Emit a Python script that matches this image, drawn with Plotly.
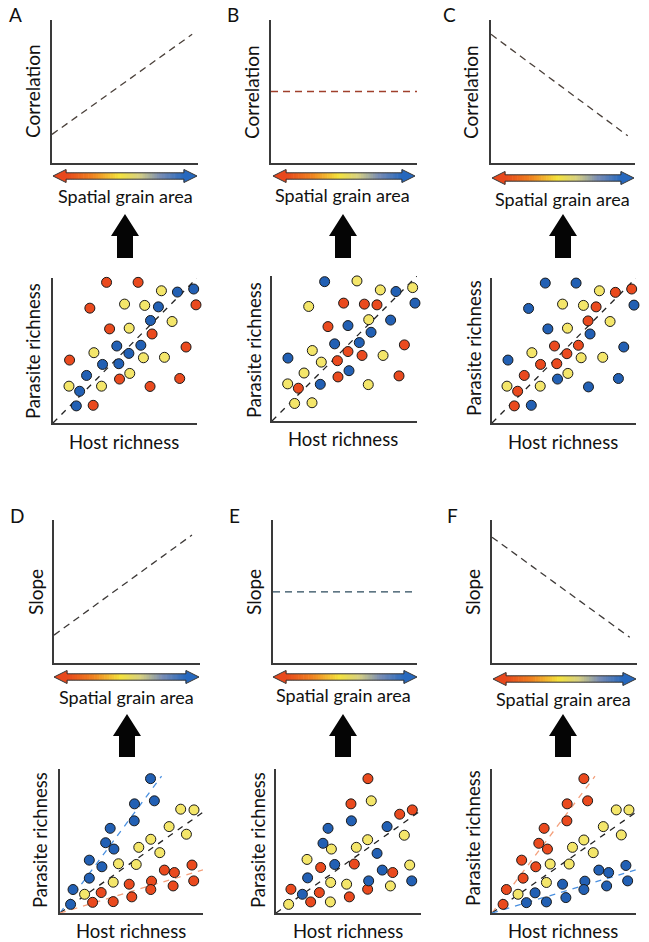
import plotly.graph_objects as go

W, H = 649, 942

# ---------------- data ----------------
# Top summary panels (metric vs spatial grain area), 0-10 scale
corr_inc_x = [0, 9.6];  corr_inc_y = [2.0, 9.0]
corr_flat_x = [0, 10];  corr_flat_y = [5.0, 5.0]
corr_dec_x = [0, 9.5];  corr_dec_y = [9.0, 1.9]
slope_inc_x = [0, 9.45]; slope_inc_y = [1.95, 8.95]
slope_flat_x = [0, 10];  slope_flat_y = [4.97, 4.97]
slope_dec_x = [0, 9.5];  slope_dec_y = [8.8, 1.8]

# Scatter panel A
A_red_x = [3.72, 5.91, 2.56, 9.93, 3.93, 6.88, 9.24, 1.15, 4.62, 8.80, 6.74, 2.79]
A_red_y = [9.70, 9.70, 7.92, 8.15, 6.49, 6.14, 5.24, 4.34, 3.03, 3.07, 2.52, 1.22]
A_yel_x = [8.80, 7.53, 4.97, 6.37, 8.27, 5.29, 2.84, 6.28, 7.74, 5.33, 1.11, 3.37]
A_yel_y = [10.18, 9.12, 8.20, 8.11, 7.00, 6.54, 4.85, 4.50, 4.53, 3.42, 2.54, 2.54]
A_blu_x = [8.64, 9.77, 7.32, 6.77, 4.43, 6.10, 5.27, 3.44, 4.57, 2.33, 1.85, 1.62]
A_blu_y = [9.03, 9.24, 8.01, 7.07, 5.31, 5.36, 4.80, 4.04, 4.09, 3.28, 2.19, 1.18]

# Scatter panel B
B_red_x = [8.69, 4.94, 6.37, 7.24, 3.86, 9.13, 5.24, 6.21, 4.51, 4.55, 8.76, 1.82]
B_red_y = [10.11, 8.13, 8.06, 8.01, 6.51, 5.25, 4.79, 4.52, 4.16, 3.04, 3.11, 2.26]
B_yel_x = [5.86, 7.47, 9.70, 2.53, 6.67, 2.78, 3.40, 7.66, 2.21, 1.08, 6.64, 1.56, 2.76]
B_yel_y = [9.66, 9.04, 9.20, 7.90, 6.99, 4.86, 4.06, 4.52, 3.31, 2.56, 2.51, 1.21, 1.26]
B_blu_x = [3.63, 8.55, 9.86, 5.24, 8.18, 6.83, 4.32, 6.02, 1.10, 5.31, 3.33]
B_blu_y = [9.61, 8.93, 8.13, 6.58, 6.96, 6.12, 5.32, 5.41, 4.34, 3.47, 2.53]

# Scatter panel C
C_blu_x = [3.70, 5.84, 2.54, 9.86, 3.88, 6.81, 9.15, 1.11, 4.55, 8.78, 6.70, 2.73]
C_blu_y = [9.65, 9.65, 7.90, 8.13, 6.49, 6.14, 5.24, 4.34, 3.03, 3.07, 2.49, 1.22]
C_yel_x = [8.73, 7.46, 4.90, 6.35, 8.20, 5.24, 2.77, 6.19, 7.69, 5.27, 1.04, 3.35]
C_yel_y = [10.18, 9.12, 8.20, 8.11, 7.00, 6.54, 4.85, 4.50, 4.53, 3.42, 2.54, 2.54]
C_red_x = [8.57, 9.70, 7.23, 6.67, 4.34, 6.00, 5.20, 3.37, 4.50, 2.24, 1.78, 1.55]
C_red_y = [9.01, 9.24, 8.01, 7.04, 5.31, 5.36, 4.78, 4.04, 4.09, 3.28, 2.19, 1.18]

# Scatter panel D
D_blu_x = [6.33, 6.60, 5.21, 5.19, 3.51, 3.19, 3.77, 2.05, 2.93, 2.05, 0.91, 0.74]
D_blu_y = [9.33, 7.79, 7.58, 6.40, 5.88, 4.88, 4.44, 3.67, 3.21, 2.42, 1.63, 0.60]
D_yel_x = [9.37, 8.44, 10.53, 7.63, 8.84, 6.35, 5.51, 6.98, 4.09, 5.33, 3.72, 1.72]
D_yel_y = [7.16, 7.21, 6.79, 6.00, 5.47, 5.12, 4.56, 4.19, 3.42, 3.37, 2.14, 1.30]
D_red_x = [9.23, 7.30, 8.00, 6.40, 4.84, 7.91, 9.35, 6.35, 5.02, 2.88, 3.72, 2.28]
D_red_y = [3.33, 2.98, 2.81, 2.21, 2.00, 1.88, 2.23, 1.63, 1.12, 1.42, 0.79, 0.74]

# Scatter panel E
E_red_x = [6.34, 5.17, 8.53, 9.40, 3.08, 5.40, 8.05, 1.03, 2.99, 2.39, 5.06, 6.32]
E_red_y = [9.33, 7.58, 6.86, 7.16, 3.16, 3.40, 2.81, 1.65, 1.42, 0.77, 1.12, 1.65]
E_yel_x = [6.57, 2.14, 3.82, 5.54, 6.32, 8.85, 9.22, 3.77, 4.87, 7.89, 3.75, 0.87]
E_yel_y = [7.79, 3.72, 4.44, 4.56, 5.09, 5.40, 3.33, 2.12, 2.00, 1.88, 0.77, 0.60]
E_blu_x = [5.20, 3.59, 3.24, 4.05, 6.97, 7.66, 10.41, 7.33, 2.18, 1.82, 6.39, 9.36]
E_blu_y = [6.40, 5.88, 4.84, 3.37, 4.14, 6.00, 6.74, 2.98, 2.44, 1.30, 2.23, 2.23]

# Scatter panel F
F_red_x = [6.38, 6.64, 5.22, 5.20, 3.62, 3.25, 3.85, 2.06, 3.04, 2.16, 1.00, 0.77]
F_red_y = [9.33, 7.79, 7.58, 6.40, 5.88, 4.84, 4.44, 3.67, 3.21, 2.42, 1.63, 0.60]
F_yel_x = [9.51, 8.63, 10.46, 7.73, 8.98, 6.38, 5.59, 7.03, 4.04, 5.36, 3.78, 1.81]
F_yel_y = [7.16, 7.16, 6.74, 6.00, 5.42, 5.07, 4.56, 4.19, 3.40, 3.40, 2.12, 1.30]
F_blu_x = [9.30, 7.42, 8.10, 6.45, 4.90, 7.96, 9.42, 6.38, 5.13, 2.99, 3.78, 2.39]
F_blu_y = [3.30, 2.98, 2.81, 2.21, 2.00, 1.88, 2.23, 1.63, 1.07, 1.40, 0.77, 0.72]

# Fitted trend lines in scatter panels
diag_x = [0, 10]; diag_y = [0, 10]
D_blu_fit_x = [0, 7.1];  D_blu_fit_y = [0, 9.5]
D_all_fit_x = [0, 10.5]; D_all_fit_y = [0, 7.35]
D_red_fit_x = [0, 10.0]; D_red_fit_y = [0, 3.0]
E_all_fit_x = [0, 10.4]; E_all_fit_y = [0, 7.4]
F_red_fit_x = [0, 7.15]; F_red_fit_y = [0, 9.5]
F_all_fit_x = [0, 10.5]; F_all_fit_y = [0, 7.35]
F_blu_fit_x = [0, 10.0]; F_blu_fit_y = [0, 3.0]

panel_letters = ["A", "B", "C", "D", "E", "F"]
top_titles = ["Correlation", "Correlation", "Correlation", "Slope", "Slope", "Slope"]
grain_label = "Spatial grain area"
host_label = "Host richness"
para_label = "Parasite richness"

# ---------------- styles / layout ----------------
RED = "#EA4A1E"
YEL = "#F4E66A"
BLU = "#2260B4"
AXC = "#3a3a3a"
FONT = "Lato, 'Open Sans', sans-serif"

# pixel boxes: (left, right, top, bottom)
top_boxes = [(52, 198, 20, 163), (271, 417, 20, 163), (491, 635, 20, 163),
             (54, 200, 520, 663), (273, 417, 520, 663), (492, 637, 520, 663)]
sc_boxes = [(53, 197, 278, 423), (272, 417, 276, 421), (492, 636, 278, 423),
            (60, 203, 769, 913), (276, 421, 769, 913), (492, 636, 769, 913)]

fig = go.Figure()


def px(x):
    return x / W


def py(y):
    return 1 - y / H


axis_count = [0]
layout_axes = {}


def new_axes(box):
    axis_count[0] += 1
    n = axis_count[0]
    l, r, t, b = box
    sx = "" if n == 1 else str(n)
    common = dict(range=[0, 10], showline=True, linecolor=AXC, linewidth=1.6,
                  showgrid=False, zeroline=False, showticklabels=False, ticks="",
                  fixedrange=True, mirror=False)
    layout_axes["xaxis" + sx] = dict(domain=[px(l), px(r)], anchor="y" + sx, **common)
    layout_axes["yaxis" + sx] = dict(domain=[py(b), py(t)], anchor="x" + sx, **common)
    return "x" + sx, "y" + sx


def dashed(xa, ya, xs, ys, color, width=1.3, dash="7px,5px"):
    fig.add_trace(go.Scatter(x=xs, y=ys, xaxis=xa, yaxis=ya, mode="lines",
                             line=dict(color=color, width=width, dash=dash),
                             hoverinfo="skip", showlegend=False, cliponaxis=False))


def pts(xa, ya, xs, ys, color):
    fig.add_trace(go.Scatter(x=xs, y=ys, xaxis=xa, yaxis=ya, mode="markers",
                             marker=dict(size=10, color=color,
                                         line=dict(color="#1a1a1a", width=1)),
                             hoverinfo="skip", showlegend=False, cliponaxis=False))


top_lines = [(corr_inc_x, corr_inc_y, "#4a403a"), (corr_flat_x, corr_flat_y, "#a0402c"),
             (corr_dec_x, corr_dec_y, "#4a403a"), (slope_inc_x, slope_inc_y, "#3e3a38"),
             (slope_flat_x, slope_flat_y, "#2b4a5c"), (slope_dec_x, slope_dec_y, "#3e3a38")]

scatter_sets = [
    [(A_red_x, A_red_y, RED), (A_yel_x, A_yel_y, YEL), (A_blu_x, A_blu_y, BLU)],
    [(B_red_x, B_red_y, RED), (B_yel_x, B_yel_y, YEL), (B_blu_x, B_blu_y, BLU)],
    [(C_red_x, C_red_y, RED), (C_yel_x, C_yel_y, YEL), (C_blu_x, C_blu_y, BLU)],
    [(D_red_x, D_red_y, RED), (D_yel_x, D_yel_y, YEL), (D_blu_x, D_blu_y, BLU)],
    [(E_red_x, E_red_y, RED), (E_yel_x, E_yel_y, YEL), (E_blu_x, E_blu_y, BLU)],
    [(F_red_x, F_red_y, RED), (F_yel_x, F_yel_y, YEL), (F_blu_x, F_blu_y, BLU)],
]
scatter_fits = [
    [(diag_x, diag_y, "#222222")],
    [(diag_x, diag_y, "#222222")],
    [(diag_x, diag_y, "#222222")],
    [(D_blu_fit_x, D_blu_fit_y, "#4a90e0"), (D_all_fit_x, D_all_fit_y, "#222222"),
     (D_red_fit_x, D_red_fit_y, "#f4a07c")],
    [(E_all_fit_x, E_all_fit_y, "#222222")],
    [(F_red_fit_x, F_red_fit_y, "#f4a07c"), (F_all_fit_x, F_all_fit_y, "#222222"),
     (F_blu_fit_x, F_blu_fit_y, "#4a90e0")],
]

for i in range(6):
    xa, ya = new_axes(top_boxes[i])
    lx, ly, lc = top_lines[i]
    dashed(xa, ya, lx, ly, lc)
for i in range(6):
    xa, ya = new_axes(sc_boxes[i])
    for fx, fy, fc in scatter_fits[i]:
        dashed(xa, ya, fx, fy, fc, width=1.3, dash="6px,6px")
    for sx_, sy_, sc in scatter_sets[i]:
        pts(xa, ya, sx_, sy_, sc)

shapes = []
annotations = []


def ann(x, y, text, size=16, angle=0, anchor="center"):
    annotations.append(dict(x=px(x), y=py(y), xref="paper", yref="paper", text=text,
                            showarrow=False, textangle=angle, xanchor=anchor,
                            yanchor="middle", font=dict(family=FONT, size=size, color="#111")))


# gradient colour helper
stops = [(0.0, (232, 72, 28)), (0.22, (240, 130, 32)), (0.45, (244, 226, 60)),
         (0.62, (214, 208, 130)), (0.8, (120, 140, 180)), (1.0, (38, 104, 190))]


def grad(t):
    for k in range(len(stops) - 1):
        t0, c0 = stops[k]
        t1, c1 = stops[k + 1]
        if t0 <= t <= t1:
            f = (t - t0) / (t1 - t0)
            c = [round(c0[j] + f * (c1[j] - c0[j])) for j in range(3)]
            return "rgb(%d,%d,%d)" % tuple(c)
    return "rgb(38,104,190)"


def grad_arrow(x0, x1, yc):
    hl, hh, bh = 13, 6.5, 3.2
    n = 48
    bx0, bx1 = x0 + hl, x1 - hl
    for k in range(n):
        a = bx0 + (bx1 - bx0) * k / n
        b = bx0 + (bx1 - bx0) * (k + 1) / n + 0.6
        t = (k + 0.5) / n
        shapes.append(dict(type="rect", xref="paper", yref="paper", x0=px(a), x1=px(b),
                           y0=py(yc + bh), y1=py(yc - bh), fillcolor=grad(t),
                           line=dict(width=0), layer="above"))
    # heads
    shapes.append(dict(type="path", xref="paper", yref="paper",
                       path="M %f %f L %f %f L %f %f Z" % (px(x0), py(yc), px(bx0 + 0.5), py(yc - hh),
                                                          px(bx0 + 0.5), py(yc + hh)),
                       fillcolor=grad(0), line=dict(width=0), layer="above"))
    shapes.append(dict(type="path", xref="paper", yref="paper",
                       path="M %f %f L %f %f L %f %f Z" % (px(x1), py(yc), px(bx1 - 0.5), py(yc - hh),
                                                          px(bx1 - 0.5), py(yc + hh)),
                       fillcolor=grad(1), line=dict(width=0), layer="above"))
    # outline
    pts_ = [(x0, yc), (bx0, yc - hh), (bx0, yc - bh), (bx1, yc - bh), (bx1, yc - hh), (x1, yc),
            (bx1, yc + hh), (bx1, yc + bh), (bx0, yc + bh), (bx0, yc + hh)]
    path = "M " + " L ".join("%f %f" % (px(a), py(b)) for a, b in pts_) + " Z"
    shapes.append(dict(type="path", xref="paper", yref="paper", path=path,
                       line=dict(color="#333", width=1), fillcolor="rgba(0,0,0,0)", layer="above"))


def up_arrow(cx, top, bottom):
    hw, sw, hb = 14, 8, top + 22
    p = [(cx, top), (cx + hw, hb), (cx + sw, hb), (cx + sw, bottom), (cx - sw, bottom),
         (cx - sw, hb), (cx - hw, hb)]
    path = "M " + " L ".join("%f %f" % (px(a), py(b)) for a, b in p) + " Z"
    shapes.append(dict(type="path", xref="paper", yref="paper", path=path,
                       fillcolor="#050505", line=dict(width=0)))


letter_pos = [(15, 15), (233, 15), (449, 15), (17, 515), (235, 515), (452, 515)]
title_pos = [(33, 91), (252, 92), (471, 92), (35, 592), (253, 592), (472, 592)]
grain_pos = [(125, 196), (342, 195), (562, 199), (126, 697), (343, 695), (563, 699)]
arrow_spans = [(53, 197, 176), (273, 415, 176), (492, 634, 178),
               (54, 199, 677), (273, 417, 677), (493, 636, 679)]
up_pos = [(125, 214, 258), (343, 214, 258), (563, 214, 258),
          (127, 714, 757), (343, 714, 757), (563, 714, 757)]
host_pos = [(124, 442), (343, 439), (563, 442), (131, 931), (348, 931), (563, 931)]
para_pos = [(33, 351), (254, 350), (474, 348), (40, 840), (258, 840), (473, 838)]

for i in range(6):
    ann(*letter_pos[i], panel_letters[i], size=19)
    ann(*title_pos[i], top_titles[i], size=19, angle=-90)
    ann(*grain_pos[i], grain_label, size=18)
    grad_arrow(*arrow_spans[i])
    up_arrow(*up_pos[i])
    ann(*host_pos[i], host_label, size=18.5)
    ann(*para_pos[i], para_label, size=18.5, angle=-90)

fig.update_layout(width=W, height=H, margin=dict(l=0, r=0, t=0, b=0),
                  paper_bgcolor="white", plot_bgcolor="white", showlegend=False,
                  hovermode=False,
                  shapes=shapes, annotations=annotations, **layout_axes)

fig.write_html("out.html", config={"displayModeBar": False, "staticPlot": True},
               post_script="document.body.style.margin='0';document.body.style.overflow='hidden';")
